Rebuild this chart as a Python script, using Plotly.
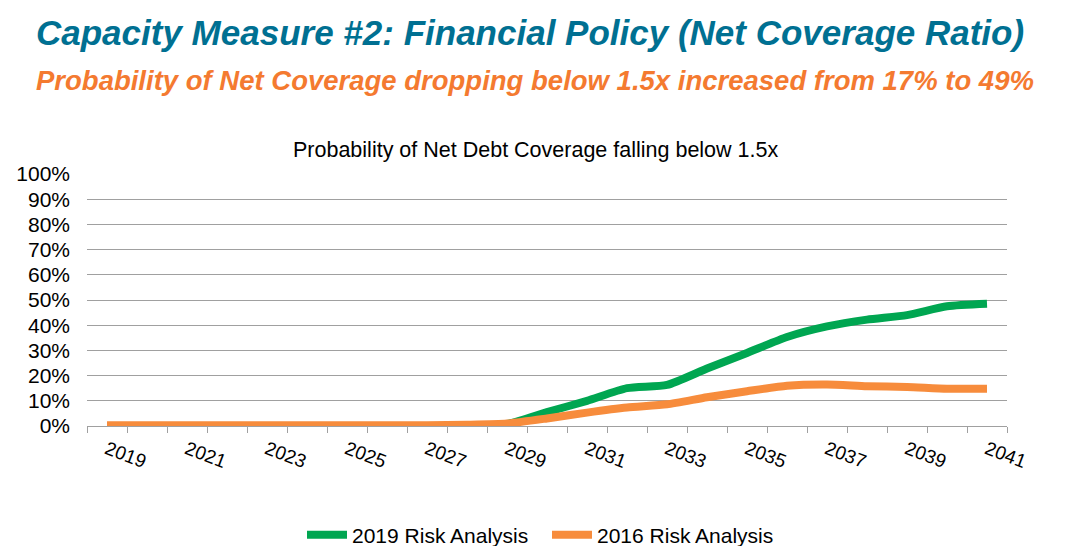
import plotly.graph_objects as go

# data
years = list(range(2019, 2042))
risk_2019 = [0, 0, 0, 0, 0, 0, 0, 0, 0, 0.1, 0.8, 5.5, 10.0, 15.0, 16.3,
             22.8, 29.0, 35.3, 39.5, 42.2, 44.0, 47.5, 48.5]
risk_2016 = [0.3, 0.3, 0.3, 0.3, 0.3, 0.3, 0.3, 0.3, 0.3, 0.5, 1.0, 3.0, 5.3, 7.3, 8.6,
             11.4, 13.8, 16.0, 16.5, 15.8, 15.5, 14.8, 14.8]
y_ticks = list(range(0, 101, 10))
x_labels = years[::2]

green = 'rgb(0,166,81)'
orange = 'rgb(247,140,60)'

fig = go.Figure()
fig.add_trace(go.Scatter(
    x=years, y=[v / 100 for v in risk_2019], mode='lines',
    name='2019 Risk Analysis',
    line=dict(color=green, width=8, shape='spline', smoothing=0.6)))
fig.add_trace(go.Scatter(
    x=years, y=[v / 100 for v in risk_2016], mode='lines',
    name='2016 Risk Analysis',
    line=dict(color=orange, width=8, shape='spline', smoothing=0.6)))

fig.update_layout(
    width=1085, height=546,
    margin=dict(l=87, r=78, t=174, b=120),
    paper_bgcolor='white', plot_bgcolor='white',
    font=dict(family='Liberation Sans, Arial, sans-serif', color='black'),
    showlegend=True,
    legend=dict(orientation='h', x=0.5, xanchor='center',
                yref='container', y=(546 - 535) / 546, yanchor='middle',
                font=dict(size=21), entrywidth=190, itemwidth=40),
    annotations=[
        dict(text='<b><i>Capacity Measure #2: Financial Policy (Net Coverage Ratio)</i></b>',
             xref='paper', yref='paper', x=-0.058, y=1.0 + (174 - 32) / 252,
             xanchor='left', yanchor='middle', showarrow=False,
             font=dict(size=35, color='rgb(0,112,146)')),
        dict(text='<b><i>Probability of Net Coverage dropping below 1.5x increased from 17% to 49%</i></b>',
             xref='paper', yref='paper', x=-0.058, y=1.0 + (174 - 80) / 252,
             xanchor='left', yanchor='middle', showarrow=False,
             font=dict(size=27.5, color='rgb(244,122,48)')),
        dict(text='Probability of Net Debt Coverage falling below 1.5x',
             xref='paper', yref='paper', x=0.488, y=1.0 + (174 - 150) / 252,
             xanchor='center', yanchor='middle', showarrow=False,
             font=dict(size=21.5, color='black')),
    ],
)

fig.update_xaxes(
    range=[2018.5, 2041.5], tickvals=x_labels, ticktext=[str(v) for v in x_labels],
    tickangle=21, ticks='', showgrid=False, zeroline=False,
    showline=True, linecolor='rgb(160,160,160)', linewidth=1,
    tickfont=dict(size=19), ticklabelstandoff=4,
    minor=dict(tick0=2018.5, dtick=1, ticks='outside', ticklen=6,
               tickcolor='rgb(160,160,160)', showgrid=False),
)
fig.update_yaxes(
    range=[0, 1], tickvals=[v / 100 for v in y_ticks],
    ticktext=[f'{v}%' for v in y_ticks], showgrid=True,
    gridcolor='rgb(160,160,160)', gridwidth=1, zeroline=False,
    showline=False, ticks='', tickfont=dict(size=21), ticklabelstandoff=16,
)

fig.write_html('out.html', config={'displayModeBar': False},
               post_script="document.body.style.margin='0px';")
